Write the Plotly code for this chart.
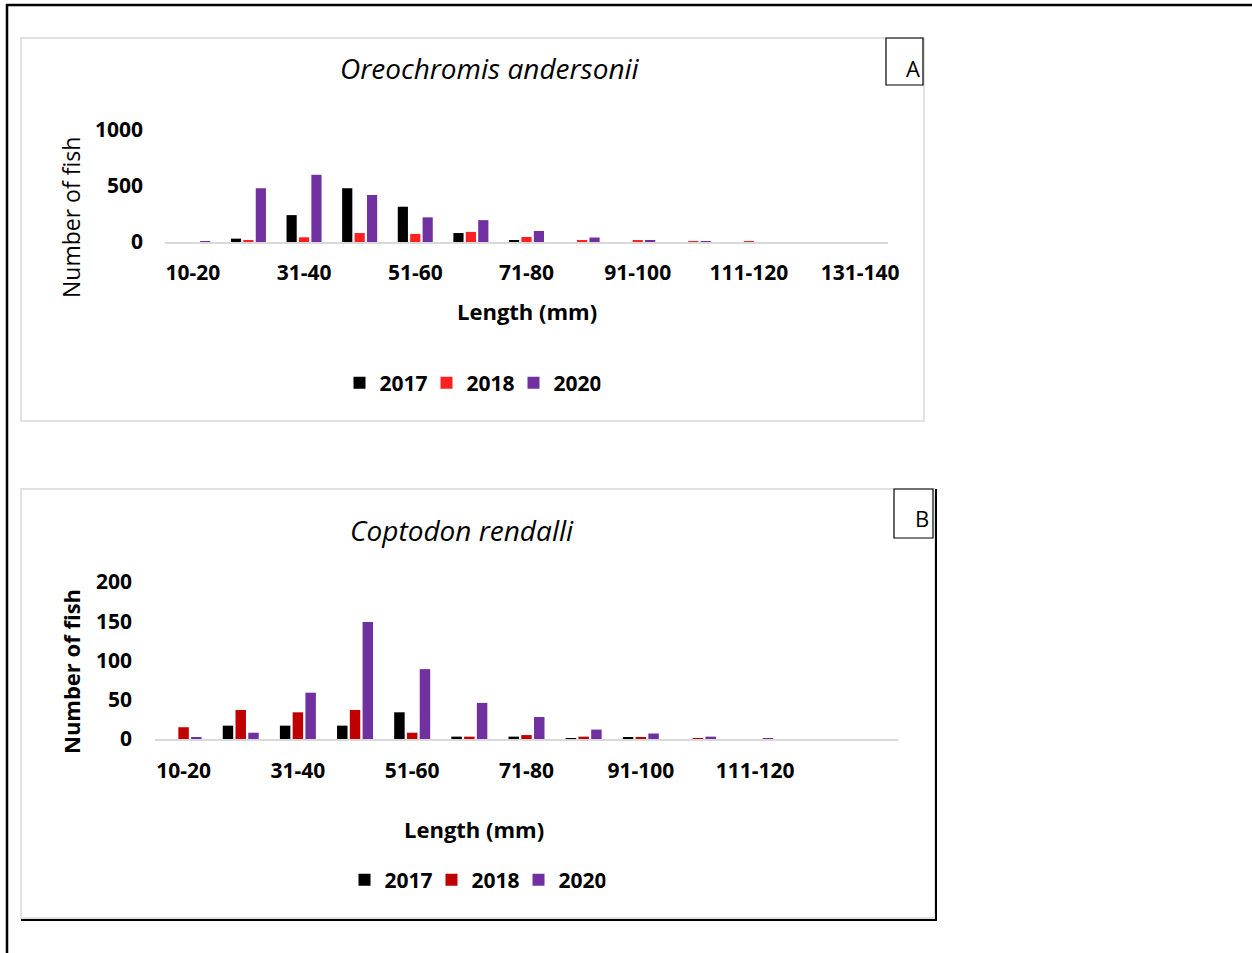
import plotly.graph_objects as go

# ---------------- data ----------------
categories = ["10-20", "21-30", "31-40", "41-50", "51-60", "61-70", "71-80",
              "81-90", "91-100", "101-110", "111-120", "121-130", "131-140"]
years = ["2017", "2018", "2020"]

# Panel A: Oreochromis andersonii
a_2017 = [0, 30, 240, 480, 315, 80, 10, 0, 0, 0, 0, 0, 0]
a_2018 = [0, 18, 42, 80, 72, 90, 45, 18, 10, 8, 3, 0, 0]
a_2020 = [5, 480, 600, 420, 220, 195, 98, 40, 10, 3, 0, 0, 0]

# Panel B: Coptodon rendalli
b_2017 = [0, 17, 17, 17, 34, 3, 3, 1, 2, 0, 0, 0, 0]
b_2018 = [15, 37, 34, 37, 8, 3, 5, 3, 2, 1, 0, 0, 0]
b_2020 = [2, 8, 59, 149, 89, 46, 28, 12, 7, 3, 1, 0, 0]

a_yticks = [0, 500, 1000]
b_yticks = [0, 50, 100, 150, 200]
a_xticks = categories[0::2]
b_xticks = categories[0:11:2]

a_colors = ["#000000", "#FF2020", "#7030A0"]
b_colors = ["#000000", "#C00000", "#7030A0"]

W, H = 1252, 953
FONT = "Open Sans"


def px(x):
    return x / W


def py(y):
    return 1 - y / H


fig = go.Figure()

for name, vals, col in zip(years, [a_2017, a_2018, a_2020], a_colors):
    fig.add_trace(go.Bar(x=categories, y=vals, name=name, marker_color=col,
                         marker_line_width=0, xaxis="x", yaxis="y",
                         legend="legend"))
for name, vals, col in zip(years, [b_2017, b_2018, b_2020], b_colors):
    fig.add_trace(go.Bar(x=categories, y=vals, name=name, marker_color=col,
                         marker_line_width=0, xaxis="x2", yaxis="y2",
                         legend="legend2"))

tickfont = dict(family=FONT, size=21, color="#000000", weight="bold")
legfont = dict(family=FONT, size=21, color="#000000", weight="bold")

fig.update_layout(
    template="none",
    width=W, height=H, autosize=False,
    margin=dict(l=0, r=0, t=0, b=0, pad=0, autoexpand=False),
    paper_bgcolor="white", plot_bgcolor="rgba(0,0,0,0)",
    barmode="group", bargap=0.33, bargroupgap=0.18,
    font=dict(family=FONT, color="#000000"),
    xaxis=dict(domain=[px(165), px(888)], anchor="y", type="category",
               categoryorder="array", categoryarray=categories,
               tickmode="array", tickvals=a_xticks, ticks="", automargin=False,
               showline=True, linecolor="#D9D9D9", linewidth=2,
               showgrid=False, tickfont=tickfont, ticklabelstandoff=11),
    yaxis=dict(domain=[py(242), py(130)], anchor="x", range=[0, 1000],
               tickmode="array", tickvals=a_yticks, ticks="", automargin=False,
               showgrid=False, zeroline=False, showline=False,
               tickfont=tickfont, ticklabelstandoff=21),
    xaxis2=dict(domain=[px(155), px(898)], anchor="y2", type="category",
                categoryorder="array", categoryarray=categories,
                tickmode="array", tickvals=b_xticks, ticks="", automargin=False,
                showline=True, linecolor="#D9D9D9", linewidth=2,
                showgrid=False, tickfont=tickfont, ticklabelstandoff=12),
    yaxis2=dict(domain=[py(739), py(582)], anchor="x2", range=[0, 200],
                tickmode="array", tickvals=b_yticks, ticks="", automargin=False,
                showgrid=False, zeroline=False, showline=False,
                tickfont=tickfont, ticklabelstandoff=22),
    legend=dict(orientation="h", x=px(470), y=py(383), xanchor="center",
                yanchor="middle", font=legfont, bgcolor="rgba(0,0,0,0)",
                itemwidth=30, tracegroupgap=0,
                entrywidth=42, entrywidthmode="pixels"),
    legend2=dict(orientation="h", x=px(475), y=py(880), xanchor="center",
                 yanchor="middle", font=legfont, bgcolor="rgba(0,0,0,0)",
                 itemwidth=30, tracegroupgap=0,
                 entrywidth=42, entrywidthmode="pixels"),
)

shapes = []
# outer table-cell frame
shapes.append(dict(type="line", xref="paper", yref="paper", x0=px(6), x1=px(1252),
                   y0=py(5), y1=py(5), line=dict(color="black", width=2.5)))
shapes.append(dict(type="line", xref="paper", yref="paper", x0=px(7), x1=px(7),
                   y0=py(4), y1=py(953), line=dict(color="black", width=2.5)))
# panel A box
shapes.append(dict(type="rect", xref="paper", yref="paper", x0=px(21), x1=px(924),
                   y0=py(38), y1=py(421), line=dict(color="#D9D9D9", width=1.5)))
shapes.append(dict(type="rect", xref="paper", yref="paper", x0=px(886), x1=px(923),
                   y0=py(38), y1=py(85), line=dict(color="black", width=1.2)))
# panel B box with shadow
shapes.append(dict(type="rect", xref="paper", yref="paper", x0=px(21), x1=px(935),
                   y0=py(489), y1=py(918), line=dict(color="#D9D9D9", width=1.5)))
shapes.append(dict(type="line", xref="paper", yref="paper", x0=px(936), x1=px(936),
                   y0=py(489), y1=py(921), line=dict(color="black", width=2)))
shapes.append(dict(type="line", xref="paper", yref="paper", x0=px(21), x1=px(937),
                   y0=py(920), y1=py(920), line=dict(color="black", width=2)))
shapes.append(dict(type="rect", xref="paper", yref="paper", x0=px(894), x1=px(933),
                   y0=py(489), y1=py(538), line=dict(color="black", width=1.2)))
fig.update_layout(shapes=shapes)


def ann(text, x, y, size, weight="normal", angle=0, italic=False):
    t = f"<i>{text}</i>" if italic else text
    fig.add_annotation(text=t, x=px(x), y=py(y), xref="paper", yref="paper",
                       showarrow=False, xanchor="center", yanchor="middle",
                       textangle=angle,
                       font=dict(family=FONT, size=size, color="black", weight=weight))


ann("Oreochromis andersonii", 490, 68, 28, italic=True)
ann("Coptodon rendalli", 462, 530, 28, italic=True)
ann("A", 913, 68, 22)
ann("B", 922, 518, 22)
ann("Number of fish", 71, 218, 23, angle=-90)
ann("Number of fish", 71, 672, 22, weight="bold", angle=-90)
ann("Length (mm)", 527, 311, 22, weight="bold")
ann("Length (mm)", 474, 829, 22, weight="bold")

fig.write_html(
    "out.html",
    config={"displayModeBar": False},
    post_script="document.body.style.margin='0px';document.body.style.overflow='hidden';",
)
